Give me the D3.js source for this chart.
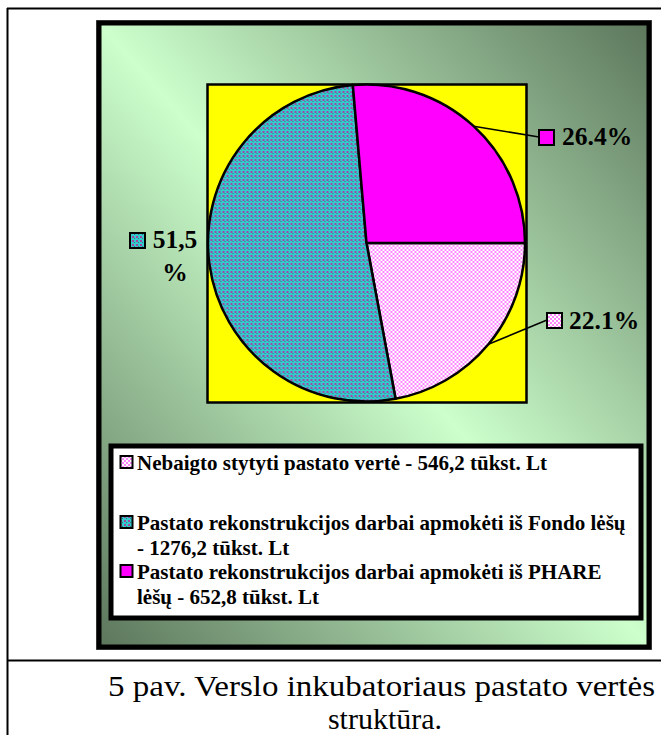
<!DOCTYPE html>
<html><head><meta charset="utf-8">
<script src="https://cdn.jsdelivr.net/npm/d3@7"></script>
<style>html,body{margin:0;padding:0;background:#fff;overflow:hidden}svg{display:block}
text{font-family:"Liberation Serif","Times New Roman",Tinos,"DejaVu Serif",serif}</style>
</head><body>
<svg id="c" width="661" height="735"></svg>
<script>
// ---- data ----
const categories = ["Nebaigto stytyti pastato vertė", "Pastato rekonstrukcijos darbai apmokėti iš Fondo lėšų", "Pastato rekonstrukcijos darbai apmokėti iš PHARE lėšų"];
const values = [546.2, 1276.2, 652.8];
const valueLabels = ["22.1%", "51,5 %", "26.4%"];
const legendLines = [
  ["Nebaigto stytyti pastato vertė - 546,2 tūkst. Lt"],
  ["Pastato rekonstrukcijos darbai apmokėti iš Fondo lėšų", "- 1276,2 tūkst. Lt"],
  ["Pastato rekonstrukcijos darbai apmokėti iš PHARE", "lėšų - 652,8 tūkst. Lt"]
];
const captionLines = ["5 pav. Verslo inkubatoriaus pastato vertės", "struktūra."];
const fills = ["url(#pPink)", "url(#pTeal)", "#ff00ff"];

const svg = d3.select("#c");
const defs = svg.append("defs");

// gradient
const g = defs.append("linearGradient").attr("id","bg")
  .attr("x1",0).attr("y1",1).attr("x2",1).attr("y2",0);
g.append("stop").attr("offset",0).attr("stop-color","#5c765c");
g.append("stop").attr("offset",0.5).attr("stop-color","#ccffcc");
g.append("stop").attr("offset",1).attr("stop-color","#5c765c");

// patterns
const pp = defs.append("pattern").attr("id","pPink").attr("patternUnits","userSpaceOnUse").attr("width",4).attr("height",4);
pp.append("rect").attr("width",4).attr("height",4).attr("fill","#ffffff");
pp.append("rect").attr("x",0).attr("y",0).attr("width",2).attr("height",2).attr("fill","#ff88ff");
pp.append("rect").attr("x",2).attr("y",2).attr("width",2).attr("height",2).attr("fill","#ff88ff");
const pt = defs.append("pattern").attr("id","pTeal").attr("patternUnits","userSpaceOnUse").attr("width",4).attr("height",4);
pt.append("rect").attr("width",4).attr("height",4).attr("fill","#33cccc");
pt.append("rect").attr("x",0).attr("y",0).attr("width",2).attr("height",2).attr("fill","#a04aa8");
pt.append("rect").attr("x",2).attr("y",2).attr("width",1).attr("height",1).attr("fill","#3a6f8a");

// outer table lines
svg.append("line").attr("x1",7.5).attr("y1",8).attr("x2",7.5).attr("y2",735).attr("stroke","#000").attr("stroke-width",2);
svg.append("line").attr("x1",7).attr("y1",8.5).attr("x2",661).attr("y2",8.5).attr("stroke","#000").attr("stroke-width",2);
svg.append("line").attr("x1",7).attr("y1",660.5).attr("x2",661).attr("y2",660.5).attr("stroke","#000").attr("stroke-width",2);

// chart frame
svg.append("rect").attr("x",96).attr("y",20).attr("width",556).attr("height",630).attr("fill","#666");
svg.append("rect").attr("x",99).attr("y",23).attr("width",550).attr("height",624)
  .attr("fill","url(#bg)").attr("stroke","#000").attr("stroke-width",5);

// plot area
svg.append("rect").attr("x",207.5).attr("y",84.5).attr("width",319).attr("height",318)
  .attr("fill","#ffff00").attr("stroke","#000").attr("stroke-width",2.5);

const cx = 366.5, cy = 243, R = 158.5;
const pie = d3.pie().sort(null).value(d=>d).startAngle(Math.PI/2).endAngle(Math.PI/2 + 2*Math.PI);
const arcs = pie(values);
const arc = d3.arc().innerRadius(0).outerRadius(R);
const pg = svg.append("g").attr("transform",`translate(${cx},${cy})`);
pg.selectAll("path").data(arcs).join("path")
  .attr("d",arc).attr("fill",(d,i)=>fills[i])
  .attr("stroke","#000").attr("stroke-width",2.5).attr("stroke-linejoin","round");

// data labels
const edge = d3.arc().innerRadius(R).outerRadius(R);
const lblStyle = s => s.attr("font-weight","bold").attr("font-size",25.5).attr("fill","#000");
function swatch(x,y,s,i){
  svg.append("rect").attr("x",x).attr("y",y).attr("width",s).attr("height",s)
    .attr("fill",fills[i]).attr("stroke","#000").attr("stroke-width",2);
}
// magenta (index 2)
{
  const p = edge.centroid(arcs[2]);
  svg.append("line").attr("x1",cx+p[0]).attr("y1",cy+p[1]).attr("x2",539).attr("y2",137).attr("stroke","#000").attr("stroke-width",1.5);
  swatch(539,130,15,2);
  svg.append("text").attr("x",562).attr("y",145).text(valueLabels[2]).call(lblStyle);
}
// pink (index 0)
{
  const p = edge.centroid(arcs[0]);
  svg.append("line").attr("x1",cx+p[0]).attr("y1",cy+p[1]).attr("x2",547).attr("y2",320).attr("stroke","#000").attr("stroke-width",1.5);
  swatch(547,313,15,0);
  svg.append("text").attr("x",569).attr("y",329).text(valueLabels[0]).call(lblStyle);
}
// teal (index 1)
{
  const parts = valueLabels[1].split(" ");
  swatch(130,233,15,1);
  svg.append("text").attr("x",175).attr("y",248).attr("text-anchor","middle").text(parts[0]).call(lblStyle);
  svg.append("text").attr("x",175).attr("y",281).attr("text-anchor","middle").text(parts[1]).call(lblStyle);
}

// legend
svg.append("rect").attr("x",111).attr("y",446).attr("width",530).attr("height",172)
  .attr("fill","#fff").attr("stroke","#000").attr("stroke-width",5);
const legY = [470, 530, 579];
legendLines.forEach((lines,i)=>{
  swatch(120.5, legY[i]-14, 12, i);
  lines.forEach((t,j)=>{
    svg.append("text").attr("x",137).attr("y",legY[i]+j*25).text(t)
      .attr("font-weight","bold").attr("font-size",21).attr("fill","#000");
  });
});

// caption
svg.append("text").attr("x",108).attr("y",696).text(captionLines[0])
  .attr("font-size",30).attr("textLength",547).attr("lengthAdjust","spacingAndGlyphs").attr("fill","#000");
svg.append("text").attr("x",385).attr("y",729).attr("text-anchor","middle").text(captionLines[1])
  .attr("font-size",30).attr("fill","#000");
</script>
</body></html>
